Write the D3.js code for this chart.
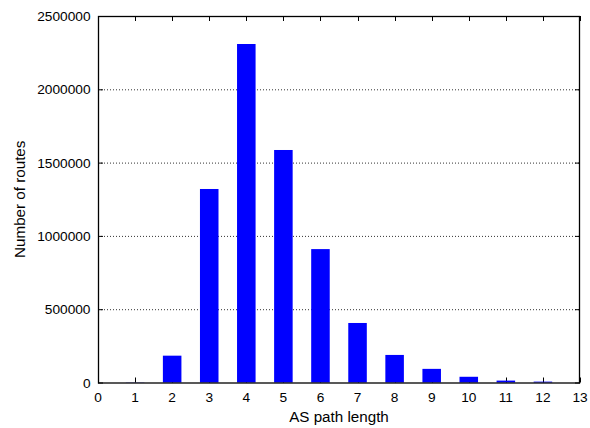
<!DOCTYPE html>
<html>
<head>
<meta charset="utf-8">
<script src="https://cdn.jsdelivr.net/npm/d3@7"></script>
<style>
  html, body { margin: 0; padding: 0; background: #fff; }
  svg { display: block; }
  text { font-family: "Liberation Sans", Arial, sans-serif; fill: #000; }
</style>
</head>
<body>
<svg id="chart" width="590" height="428"></svg>
<script>
// AS path length histogram
const pathLengths = [1, 2, 3, 4, 5, 6, 7, 8, 9, 10, 11, 12];
const routeCounts = [1500, 183000, 1320000, 2309000, 1586000, 910000, 406000, 188000, 93000, 39000, 13000, 6000];
const xTicks = [0, 1, 2, 3, 4, 5, 6, 7, 8, 9, 10, 11, 12, 13];
const yTicks = [0, 500000, 1000000, 1500000, 2000000, 2500000];

const margin = { left: 98, right: 10, top: 16, bottom: 45.5 };
const W = 590, H = 428;
const svg = d3.select("#chart");

const x = d3.scaleLinear().domain([0, 13]).range([margin.left, W - margin.right]);
const y = d3.scaleLinear().domain([0, 2500000]).range([H - margin.bottom, margin.top]);
const barW = x(0.5) - x(0);
const tickLen = 5;
const tickFont = 13.7;
const titleFont = 15.2;

// dotted horizontal grid
svg.append("g")
  .selectAll("line")
  .data(yTicks.filter(d => d > 0 && d < 2500000))
  .join("line")
  .attr("x1", x(0)).attr("x2", x(13))
  .attr("y1", d => y(d) + 0.5).attr("y2", d => y(d) + 0.5)
  .attr("stroke", "#333").attr("stroke-width", 1)
  .attr("stroke-dasharray", "1,2");

// ticks on all four sides, pointing inward
const tickG = svg.append("g").attr("stroke", "#000").attr("stroke-width", 1);
tickG.selectAll("line.xb").data(xTicks).join("line")
  .attr("x1", d => Math.round(x(d)) + 0.5).attr("x2", d => Math.round(x(d)) + 0.5)
  .attr("y1", y(0)).attr("y2", y(0) - tickLen);
tickG.selectAll("line.xt").data(xTicks).join("line")
  .attr("x1", d => Math.round(x(d)) + 0.5).attr("x2", d => Math.round(x(d)) + 0.5)
  .attr("y1", y(2500000)).attr("y2", y(2500000) + tickLen);
tickG.selectAll("line.yl").data(yTicks).join("line")
  .attr("x1", x(0)).attr("x2", x(0) + tickLen)
  .attr("y1", d => y(d) + 0.5).attr("y2", d => y(d) + 0.5);
tickG.selectAll("line.yr").data(yTicks).join("line")
  .attr("x1", x(13)).attr("x2", x(13) - tickLen)
  .attr("y1", d => y(d) + 0.5).attr("y2", d => y(d) + 0.5);

// bars
svg.append("g")
  .selectAll("rect")
  .data(pathLengths.map((d, i) => ({ len: d, count: routeCounts[i] })))
  .join("rect")
  .attr("x", d => x(d.len) - barW / 2)
  .attr("width", barW)
  .attr("y", d => y(d.count))
  .attr("height", d => y(0) - y(d.count))
  .attr("fill", "#0000ff");

// frame
svg.append("rect")
  .attr("x", x(0) + 0.5).attr("y", y(2500000) + 0.5)
  .attr("width", x(13) - x(0) - 1).attr("height", y(0) - y(2500000))
  .attr("fill", "none").attr("stroke", "#000").attr("stroke-width", 1.3);

// tick labels
svg.append("g").selectAll("text").data(xTicks).join("text")
  .attr("x", d => x(d)).attr("y", y(0) + 19.5)
  .attr("text-anchor", "middle").attr("font-size", tickFont)
  .text(d => d);
svg.append("g").selectAll("text").data(yTicks).join("text")
  .attr("x", x(0) - 7.5).attr("y", d => y(d) + 5)
  .attr("text-anchor", "end").attr("font-size", tickFont)
  .text(d => d);

// axis titles
svg.append("text")
  .attr("x", (x(0) + x(13)) / 2).attr("y", 421.5)
  .attr("text-anchor", "middle").attr("font-size", titleFont)
  .text("AS path length");
svg.append("text")
  .attr("transform", `translate(24.5, ${(y(0) + y(2500000)) / 2}) rotate(-90)`)
  .attr("text-anchor", "middle").attr("font-size", titleFont)
  .text("Number of routes");
</script>
</body>
</html>
